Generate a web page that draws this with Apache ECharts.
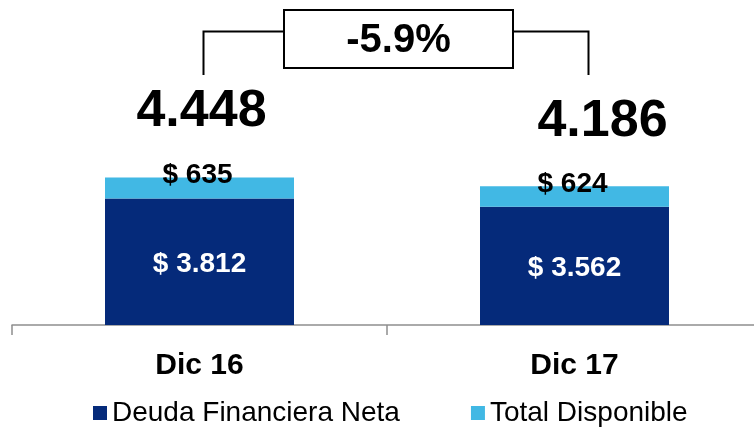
<!DOCTYPE html>
<html>
<head>
<meta charset="utf-8">
<script src="https://cdn.jsdelivr.net/npm/echarts@6/dist/echarts.min.js"></script>
<style>
  html, body { margin: 0; padding: 0; background: #fff; }
  #chart { width: 754px; height: 429px; }
</style>
</head>
<body>
<div id="chart"></div>
<script>
    const categories = ['Dic 16', 'Dic 17'];
    const deudaNeta = [3812, 3562];
    const totalDisponible = [635, 624];
    // totals as printed on the slide (rounded in the source)
    const totals = [4448, 4186];
    const seriesNames = ['Deuda Financiera Neta', 'Total Disponible'];

    const FONT = "'Liberation Sans', Arial, sans-serif";
    const DARK = '#052a7a';
    const LIGHT = '#41b8e4';

    function fmtNum(v) {
        return String(Math.round(v)).replace(/\B(?=(\d{3})+(?!\d))/g, '.');
    }

    const change = (totals[1] - totals[0]) / totals[0] * 100;
    const changeText = change.toFixed(1) + '%';

    // small nudges for the total labels, as in the slide
    const totalOffsets = [[2, -66], [28, -65]];

    const chart = echarts.init(document.getElementById('chart'));

    chart.setOption({
        animation: false,
        textStyle: { fontFamily: FONT },
        grid: {
            left: 12, width: 750, top: 126, bottom: 104,
            containLabel: false,
            outerBoundsMode: 'none',
        },
        legend: {
            left: 93,
            top: 399,
            padding: 0,
            itemWidth: 14,
            itemHeight: 14,
            itemGap: 71,
            icon: 'rect',
            textStyle: { fontFamily: FONT, fontSize: 28, color: '#000' },
            data: seriesNames,
        },
        xAxis: {
            type: 'category',
            data: categories,
            boundaryGap: true,
            axisLine: { lineStyle: { color: '#8f8f8f', width: 1.5 } },
            axisTick: { show: true, length: 10, lineStyle: { color: '#8f8f8f', width: 1.5 } },
            axisLabel: {
                margin: 26,
                fontFamily: FONT,
                fontSize: 30,
                fontWeight: 'bold',
                color: '#000',
            },
        },
        yAxis: {
            type: 'value',
            min: 0,
            max: 6000,
            show: false,
            splitLine: { show: false },
        },
        series: [
            {
                name: seriesNames[0],
                type: 'bar',
                stack: 'total',
                barWidth: '50.4%',
                itemStyle: { color: DARK },
                label: {
                    show: true,
                    position: 'inside',
                    offset: [0, 2],
                    formatter: (p) => '$ ' + fmtNum(p.value),
                    fontFamily: FONT,
                    fontSize: 28,
                    fontWeight: 'bold',
                    color: '#fff',
                },
                data: deudaNeta,
            },
            {
                name: seriesNames[1],
                type: 'bar',
                stack: 'total',
                barWidth: '50.4%',
                itemStyle: { color: LIGHT },
                label: {
                    show: true,
                    position: 'top',
                    distance: 0,
                    offset: [-2, 12],
                    formatter: (p) => '$ ' + fmtNum(p.value),
                    fontFamily: FONT,
                    fontSize: 28,
                    fontWeight: 'bold',
                    color: '#000',
                },
                data: totalDisponible,
            },
            {
                name: 'Total',
                type: 'scatter',
                symbolSize: 0,
                silent: true,
                itemStyle: { opacity: 1 },
                label: {
                    show: true,
                    position: 'inside',
                    formatter: (p) => fmtNum(p.value),
                    fontFamily: FONT,
                    fontSize: 52,
                    fontWeight: 'bold',
                    color: '#000',
                },
                data: totals.map((v, i) => ({
                    value: v,
                    label: { offset: totalOffsets[i] },
                })),
            },
        ],
    });

    // bracket with the variation box, anchored to the category centres
    const p0 = chart.convertToPixel({ seriesIndex: 0 }, [0, 0]);
    const p1 = chart.convertToPixel({ seriesIndex: 0 }, [1, 0]);
    const xl = p0[0] + 4;
    const xr = p1[0] + 14;
    const yTop = 31.5;
    const yEnd = 75;
    const boxL = 284, boxR = 513, boxT = 10, boxB = 68;
    const line = { stroke: '#000', lineWidth: 2, fill: null };

    chart.setOption({
        graphic: [
            { type: 'polyline', shape: { points: [[xl, yEnd], [xl, yTop], [boxL, yTop]] }, style: line },
            { type: 'polyline', shape: { points: [[boxR, yTop], [xr, yTop], [xr, yEnd]] }, style: line },
            {
                type: 'rect',
                shape: { x: boxL, y: boxT, width: boxR - boxL, height: boxB - boxT },
                style: { stroke: '#000', lineWidth: 2, fill: '#fff' },
            },
            {
                type: 'text',
                x: (boxL + boxR) / 2,
                y: (boxT + boxB) / 2 + 2,
                style: {
                    text: changeText,
                    fontFamily: FONT,
                    fontSize: 40,
                    fontWeight: 'bold',
                    fill: '#000',
                    align: 'center',
                    verticalAlign: 'middle',
                },
            },
        ],
    });
</script>
</body>
</html>
